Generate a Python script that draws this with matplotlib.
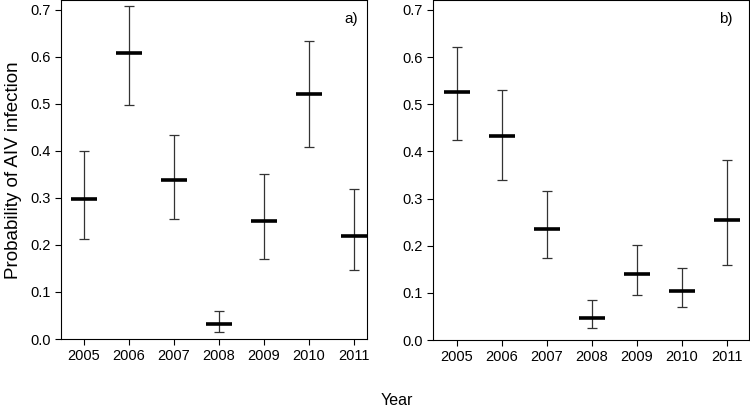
import matplotlib.pyplot as plt

plt.rcParams['font.family'] = ['Liberation Sans', 'DejaVu Sans']

years = [2005, 2006, 2007, 2008, 2009, 2010, 2011]

# panel a) estimates and 95% limits
mean_a = [0.297, 0.608, 0.339, 0.032, 0.250, 0.520, 0.220]
upper_a = [0.399, 0.709, 0.433, 0.059, 0.351, 0.634, 0.320]
lower_a = [0.212, 0.497, 0.255, 0.016, 0.171, 0.408, 0.146]

# panel b)
mean_b = [0.525, 0.432, 0.236, 0.047, 0.141, 0.104, 0.254]
upper_b = [0.622, 0.530, 0.315, 0.084, 0.202, 0.152, 0.381]
lower_b = [0.425, 0.339, 0.173, 0.025, 0.096, 0.071, 0.158]

yticks = [0.0, 0.1, 0.2, 0.3, 0.4, 0.5, 0.6, 0.7]

fig = plt.figure(figsize=(7.5, 4.07), dpi=100)
ax1 = fig.add_axes([0.0813, 0.167, 0.4077, 0.832])
ax2 = fig.add_axes([0.578, 0.1646, 0.4207, 0.8344])

panels = [(ax1, mean_a, upper_a, lower_a, 'a)', (2004.49, 2011.29), 0.971),
          (ax2, mean_b, upper_b, lower_b, 'b)', (2004.48, 2011.49), 0.949)]

for ax, m, up, lo, tag, xl, tx in panels:
    err = [[mi - li for mi, li in zip(m, lo)], [ui - mi for mi, ui in zip(m, up)]]
    ax.errorbar(years, m, yerr=err, fmt='none', ecolor='#333333',
                elinewidth=0.9, capsize=3.6, capthick=0.9)
    ax.plot(years, m, linestyle='none', marker='_', markersize=19,
            markeredgewidth=2.6, color='black')
    ax.set_xlim(*xl)
    ax.set_ylim(0, 0.72)
    ax.set_xticks(years)
    ax.set_yticks(yticks)
    ax.set_yticklabels([f'{t:.1f}' for t in yticks])
    ax.tick_params(direction='out', length=4, width=0.8, labelsize=10.5,
                   top=False, right=False)
    for s in ax.spines.values():
        s.set_linewidth(0.8)
    ax.text(tx, 0.965, tag, transform=ax.transAxes, ha='right', va='top',
            fontsize=11)

ax1.set_ylabel('Probability of AIV infection', fontsize=13.5, labelpad=6)
fig.text(0.529, 0.015, 'Year', ha='center', va='center', fontsize=11.5)

fig.savefig('out.png', dpi=100)
